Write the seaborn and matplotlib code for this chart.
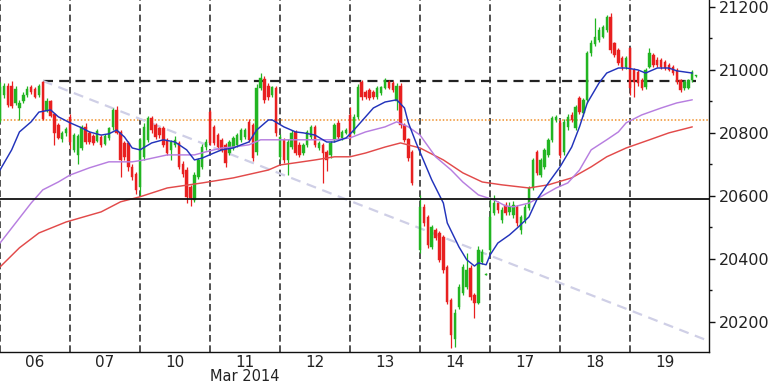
import numpy as np
import pandas as pd
import matplotlib
matplotlib.use("Agg")
import matplotlib.pyplot as plt
from matplotlib.ticker import MultipleLocator
import seaborn as sns

nan = float("nan")

# ---- candle data (18 bars per trading day) ----
days = ["06", "07", "10", "11", "12", "13", "14", "17", "18", "19"]
bars_per_day = 18
opens = [
    20841, 20920, 20950, 20948, 20895, 20878, 20900, 20920, 20945, 20940, 20920, 20962, 20870, 20900, 20860, 20825, 20780, 20798,
    20850, 20746, 20730, 20752, 20819, 20800, 20790, 20775, 20787, 20766, 20784, 20819, 20873, 20803, 20768, 20768, 20690, 20670,
    20628, 20724, 20778, 20847, 20825, 20816, 20816, 20778, 20746, 20762, 20768, 20700, 20682, 20628, 20587, 20660, 20692, 20755,
    20866, 20819, 20793, 20778, 20762, 20736, 20752, 20762, 20778, 20787, 20835, 20825, 20740, 20943, 20972, 20950, 20920, 20943,
    20724, 20778, 20714, 20755, 20803, 20762, 20736, 20762, 20787, 20819, 20752, 20762, 20740, 20730, 20778, 20832, 20784, 20800,
    20857, 20800, 20851, 20962, 20930, 20936, 20930, 20914, 20926, 20943, 20962, 20958, 20900, 20950, 20825, 20780, 20740, nan,
    20428, 20565, 20533, 20438, 20492, 20482, 20470, 20374, 20270, 20145, 20247, 20292, 20311, 20371, 20285, 20260, 20390, 20350,
    20428, 20546, 20577, 20524, 20571, 20549, 20539, 20565, 20492, 20524, 20562, 20625, 20740, 20666, 20692, 20730, 20778, 20840,
    20832, 20740, 20819, 20857, 20816, 20911, 20863, 20905, 21054, 21082, 21095, 21105, 21127, 21168, 21085, 21063, 21038, 21009,
    21070, 21000, 20993, 20968, 20946, 21009, 21047, 21032, 21032, 21025, 21016, 21009, 21000, 20968, 20943, 20943, 20968, 20980,
]
highs = [
    20960, 20958, 20958, 20965, 20948, 20905, 20930, 20948, 20952, 20946, 20955, 20966, 20910, 20905, 20862, 20830, 20805, 20820,
    20860, 20800, 20795, 20825, 20830, 20806, 20796, 20812, 20792, 20795, 20820, 20880, 20885, 20810, 20775, 20775, 20700, 20675,
    20785, 20830, 20855, 20855, 20830, 20820, 20822, 20785, 20776, 20790, 20775, 20710, 20690, 20635, 20675, 20720, 20765, 20780,
    20873, 20825, 20800, 20785, 20768, 20778, 20790, 20800, 20815, 20815, 20845, 20830, 20955, 20990, 20980, 20958, 20950, 20950,
    20795, 20785, 20780, 20808, 20810, 20770, 20768, 20810, 20825, 20825, 20775, 20768, 20745, 20775, 20832, 20840, 20810, 20815,
    20882, 20860, 20955, 20968, 20936, 20942, 20936, 20948, 20950, 20975, 20968, 20965, 20958, 20958, 20830, 20785, 20745, nan,
    20603, 20575, 20540, 20508, 20498, 20488, 20476, 20380, 20275, 20240, 20320, 20385, 20420, 20380, 20290, 20440, 20432, 20355,
    20597, 20603, 20585, 20565, 20580, 20580, 20585, 20570, 20540, 20575, 20632, 20720, 20745, 20720, 20752, 20785, 20855, 20857,
    20841, 20845, 20860, 20865, 20890, 20918, 20912, 21060, 21095, 21165, 21135, 21143, 21175, 21180, 21090, 21068, 21045, 21045,
    21072, 21005, 21000, 20975, 21005, 21070, 21055, 21040, 21038, 21030, 21022, 21015, 21005, 20972, 20968, 20972, 21000, 20985,
]
lows = [
    20835, 20910, 20882, 20878, 20890, 20841, 20895, 20915, 20925, 20910, 20915, 20840, 20865, 20850, 20760, 20780, 20770, 20790,
    20750, 20740, 20700, 20745, 20765, 20765, 20760, 20770, 20755, 20760, 20778, 20810, 20795, 20660, 20715, 20680, 20650, 20605,
    20600, 20715, 20770, 20800, 20780, 20785, 20755, 20730, 20714, 20755, 20685, 20660, 20577, 20567, 20580, 20655, 20685, 20745,
    20760, 20760, 20750, 20740, 20690, 20730, 20745, 20755, 20770, 20780, 20770, 20712, 20730, 20935, 20895, 20905, 20915, 20790,
    20715, 20705, 20666, 20750, 20730, 20722, 20730, 20755, 20780, 20755, 20745, 20641, 20680, 20720, 20770, 20780, 20778, 20795,
    20780, 20795, 20845, 20905, 20908, 20905, 20908, 20908, 20920, 20938, 20938, 20930, 20873, 20815, 20770, 20712, 20635, nan,
    20420, 20505, 20435, 20430, 20460, 20390, 20355, 20255, 20117, 20120, 20240, 20285, 20305, 20270, 20212, 20255, 20385, 20348,
    20420, 20540, 20545, 20515, 20540, 20540, 20530, 20505, 20478, 20515, 20555, 20618, 20665, 20660, 20685, 20722, 20770, 20835,
    20720, 20730, 20810, 20835, 20810, 20860, 20855, 20895, 21045, 21075, 21090, 21100, 21120, 21055, 21040, 21015, 21000, 21003,
    20920, 20914, 20950, 20936, 20940, 21005, 21010, 21010, 21003, 21000, 20995, 20985, 20955, 20930, 20936, 20940, 20962, 20978,
]
closes = [
    20945, 20950, 20890, 20885, 20940, 20895, 20920, 20940, 20930, 20915, 20948, 20845, 20900, 20855, 20800, 20785, 20800, 20812,
    20770, 20793, 20790, 20819, 20771, 20771, 20768, 20806, 20762, 20790, 20815, 20873, 20800, 20714, 20724, 20690, 20660, 20620,
    20778, 20819, 20847, 20809, 20787, 20793, 20762, 20736, 20771, 20778, 20692, 20670, 20597, 20593, 20666, 20714, 20755, 20770,
    20768, 20768, 20755, 20746, 20705, 20771, 20784, 20793, 20809, 20809, 20778, 20720, 20943, 20974, 20905, 20914, 20945, 20800,
    20787, 20714, 20771, 20800, 20736, 20730, 20762, 20803, 20819, 20762, 20768, 20736, 20714, 20768, 20825, 20787, 20803, 20810,
    20787, 20851, 20946, 20914, 20914, 20911, 20914, 20943, 20946, 20968, 20943, 20936, 20950, 20825, 20778, 20720, 20641, nan,
    20565, 20514, 20444, 20501, 20466, 20397, 20365, 20263, 20158, 20228, 20311, 20374, 20365, 20279, 20260, 20428, 20422, 20352,
    20533, 20577, 20555, 20555, 20546, 20565, 20571, 20514, 20533, 20565, 20625, 20714, 20673, 20714, 20746, 20778, 20847, 20850,
    20730, 20835, 20851, 20841, 20882, 20866, 20905, 21054, 21085, 21105, 21127, 21136, 21168, 21063, 21047, 21022, 21009, 21038,
    20943, 20962, 20958, 20943, 21000, 21054, 21016, 21016, 21009, 21006, 21000, 20990, 20962, 20936, 20962, 20968, 20993, 20982,
]

# ---- moving averages (bar index, value) ----
ma_fast_idx = [0, 3, 5, 8, 10, 13, 15, 18, 21, 23, 26, 28, 30, 32, 34, 36, 39, 42, 45, 48, 50, 52, 55, 57, 60, 62, 64,
               66, 69, 70, 73, 76, 78, 81, 84, 86, 89, 91, 94, 96, 99, 102, 104, 105, 107, 111, 114, 115, 118, 120,
               122, 123, 125, 126, 128, 131, 133, 136, 138, 141, 144, 147, 149, 151, 154, 156, 159, 161, 164, 166,
               169, 172, 174, 178]
ma_fast = [20682, 20746, 20803, 20835, 20866, 20873, 20851, 20832, 20816, 20803, 20793, 20797, 20809, 20787, 20752,
           20746, 20768, 20778, 20771, 20746, 20714, 20720, 20736, 20746, 20752, 20762, 20771, 20809, 20841, 20841,
           20819, 20803, 20800, 20793, 20771, 20771, 20784, 20809, 20851, 20879, 20898, 20905, 20879, 20832, 20768,
           20651, 20577, 20514, 20438, 20397, 20377, 20387, 20381, 20412, 20450, 20476, 20498, 20533, 20587, 20641,
           20692, 20755, 20819, 20895, 20958, 20990, 21006, 21006, 21000, 20990, 21006, 21006, 20997, 20990]

ma_mid_idx = [0, 8, 11, 15, 18, 23, 28, 34, 37, 43, 50, 53, 57, 60, 64, 67, 71, 76, 81, 86, 90, 94, 99, 102, 105, 108,
              112, 116, 119, 123, 127, 130, 132, 136, 139, 143, 146, 149, 152, 156, 159, 161, 165, 170, 174, 178]
ma_mid = [20450, 20577, 20619, 20644, 20666, 20689, 20708, 20708, 20714, 20730, 20730, 20740, 20752, 20755, 20762,
          20778, 20778, 20778, 20778, 20778, 20784, 20803, 20819, 20835, 20819, 20793, 20724, 20682, 20644, 20603,
          20587, 20568, 20565, 20577, 20597, 20625, 20641, 20682, 20746, 20778, 20803, 20832, 20857, 20879, 20895,
          20905]

ma_slow_idx = [0, 5, 10, 17, 26, 31, 36, 43, 52, 60, 69, 72, 76, 81, 86, 90, 94, 99, 103, 108, 114, 119, 124, 129,
               136, 141, 147, 152, 156, 161, 167, 172, 178]
ma_slow = [20374, 20435, 20482, 20517, 20549, 20581, 20597, 20625, 20641, 20657, 20682, 20698, 20705, 20714, 20724,
           20724, 20736, 20755, 20768, 20752, 20714, 20673, 20644, 20635, 20625, 20635, 20657, 20692, 20724, 20752,
           20778, 20800, 20819]

# ---- reference levels ----
support_level = 20590
pivot_level = 20840
resistance_level = 20965
resistance_span = [11, 179]
trend_idx = [11, 182]
trend_val = [20965, 20140]
y_ticks = [20200, 20400, 20600, 20800, 21000, 21200]

# ---------------------------------------------------------------
sns.set_style("white")
plt.rcParams["font.family"] = ["DejaVu Sans"]

fig = plt.figure(figsize=(7.68, 3.84), dpi=100)
ax = fig.add_axes([0.0, 32 / 384, 709 / 768, 352 / 384])

n = len(opens)
idx = np.arange(n)
o = np.array(opens, dtype=float)
h = np.array(highs, dtype=float)
l = np.array(lows, dtype=float)
c = np.array(closes, dtype=float)
valid = ~np.isnan(o)
up = (c >= o) & valid
dn = (c < o) & valid
green = "#22b522"
red = "#e82020"

# day separators
for d in range(len(days)):
    ax.axvline(d * bars_per_day, color="#333333", lw=1.2, dashes=(4, 2.2), zorder=1)

# horizontal levels
ax.axhline(pivot_level, color="#f0902a", lw=1.1, dashes=(1, 1.3), zorder=1)
ax.axhline(support_level, color="#111111", lw=1.3, zorder=4)
ax.plot(resistance_span, [resistance_level] * 2, color="#222222", lw=1.6, dashes=(4.5, 2.8), zorder=1)
ax.plot(trend_idx, trend_val, color="#cfcfe6", lw=1.6, dashes=(4.5, 3), zorder=1)

# candles
for mask, col in ((up, green), (dn, red)):
    ax.vlines(idx[mask], l[mask], h[mask], color=col, lw=0.9, zorder=2)
    bottom = np.minimum(o[mask], c[mask])
    height = np.maximum(np.abs(c[mask] - o[mask]), 2.5)
    ax.bar(idx[mask], height, bottom=bottom, width=0.62, color=col, edgecolor=col, lw=0.3, zorder=2)

# moving averages via seaborn
ma_df = pd.concat([
    pd.DataFrame({"i": ma_slow_idx, "v": ma_slow, "s": "slow"}),
    pd.DataFrame({"i": ma_mid_idx, "v": ma_mid, "s": "mid"}),
    pd.DataFrame({"i": ma_fast_idx, "v": ma_fast, "s": "fast"}),
])
sns.lineplot(data=ma_df, x="i", y="v", hue="s", sort=False, estimator=None,
             palette={"slow": "#e24a4a", "mid": "#b77ee0", "fast": "#2233bb"},
             ax=ax, legend=False, zorder=3, lw=1.05)

ax.set_xlim(0, 182.3)
ax.set_ylim(20104, 21222)

# axes styling
for s in ("top", "left"):
    ax.spines[s].set_visible(False)
for s in ("right", "bottom"):
    ax.spines[s].set_color("#111111")
    ax.spines[s].set_linewidth(1.0)

ax.yaxis.tick_right()
ax.set_yticks(y_ticks)
ax.set_yticklabels([str(v) for v in y_ticks])
ax.yaxis.set_minor_locator(MultipleLocator(100))
ax.tick_params(axis="y", which="major", length=4, width=1, direction="out", pad=3,
               labelsize=11.5, colors="#111111", labelcolor="#222222")
ax.tick_params(axis="y", which="minor", length=2.5, width=1, direction="out", colors="#111111")

ax.set_xticks([d * bars_per_day + 9 for d in range(len(days))])
ax.set_xticklabels(days)
ax.tick_params(axis="x", which="both", length=0, pad=2, labelsize=11, labelcolor="#222222")
ax.set_xlabel("")
ax.set_ylabel("")
ax.grid(False)

fig.text(245 / 768, 0, "Mar 2014", ha="center", va="bottom", fontsize=10.5, color="#222222")

fig.savefig("out.png", dpi=100)
